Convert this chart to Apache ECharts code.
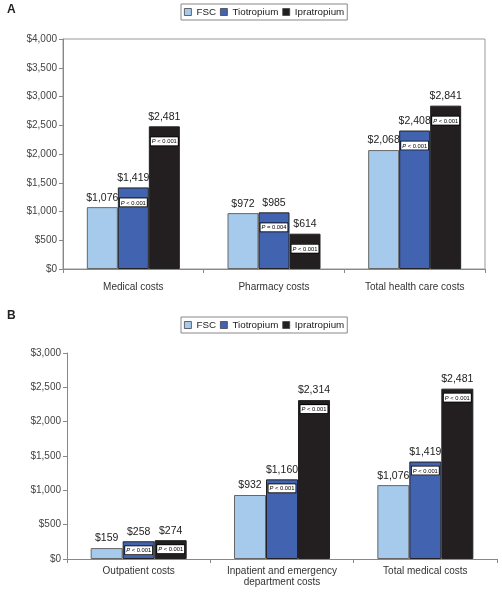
<!DOCTYPE html>
<html><head><meta charset="utf-8">
<script src="https://cdn.jsdelivr.net/npm/echarts@6/dist/echarts.min.js"></script>
<style>html,body{margin:0;padding:0;background:#fff}#c{width:502px;height:592px}</style>
</head><body><div id="c"></div>
<script>
// ---- data ----
const seriesNames = ['FSC', 'Tiotropium', 'Ipratropium'];
const categoriesA = ['Medical costs', 'Pharmacy costs', 'Total health care costs'];
const fscA = [1076, 972, 2068];
const tioA = [1419, 985, 2408];
const ipraA = [2481, 614, 2841];
const pTioA = ['P < 0.001', 'P = 0.004', 'P < 0.001'];
const pIpraA = ['P < 0.001', 'P < 0.001', 'P < 0.001'];
const yTicksA = [0, 500, 1000, 1500, 2000, 2500, 3000, 3500, 4000];

const categoriesB = ['Outpatient costs', 'Inpatient and emergency\ndepartment costs', 'Total medical costs'];
const fscB = [159, 932, 1076];
const tioB = [258, 1160, 1419];
const ipraB = [274, 2314, 2481];
const pTioB = ['P < 0.001', 'P < 0.001', 'P < 0.001'];
const pIpraB = ['P < 0.001', 'P < 0.001', 'P < 0.001'];
const yTicksB = [0, 500, 1000, 1500, 2000, 2500, 3000];

// ---- styles ----
const colors = ['#a6caec', '#4263af', '#231f20'];
const FONT = 'Liberation Sans, Arial, sans-serif';
const money = v => '$' + Math.round(v).toLocaleString('en-US');

const chart = echarts.init(document.getElementById('c'));

function pLabel(arr, dist) {
  return {
    show: true, position: 'insideTop', distance: dist,
    backgroundColor: '#fff', borderColor: '#000', borderWidth: 0.8,
    padding: [1, 1, 0, 1],
    formatter: p => '{i|' + arr[p.dataIndex].charAt(0) + '}{n|' + arr[p.dataIndex].slice(1) + '}',
    rich: {
      i: { fontStyle: 'italic', fontSize: 5.8, fontFamily: FONT, color: '#000', lineHeight: 7 },
      n: { fontSize: 5.8, fontFamily: FONT, color: '#000', lineHeight: 7 }
    }
  };
}

function panelSeries(gi, vals, pArrs, pDist, bw) {
  const out = [];
  vals.forEach((v, i) => {
    out.push({
      name: seriesNames[i], type: 'bar', xAxisIndex: gi * 2, yAxisIndex: gi,
      data: v, barWidth: bw, barGap: '0%',
      itemStyle: { color: colors[i], borderColor: i === 0 ? '#666' : '#222', borderWidth: 1 },
      label: pArrs[i] ? pLabel(pArrs[i], pDist) : { show: false },
      silent: true
    });
  });
  vals.forEach((v, i) => {
    out.push({
      name: seriesNames[i] + ' value', type: 'bar', xAxisIndex: gi * 2 + 1, yAxisIndex: gi,
      data: v, barWidth: bw, barGap: '0%',
      itemStyle: { color: 'rgba(0,0,0,0)' },
      label: { show: true, position: 'top', distance: 4, formatter: p => money(p.value),
        fontSize: 10.5, fontFamily: FONT, color: '#222' },
      silent: true
    });
  });
  return out;
}

function yAxis(gi, ticks) {
  return {
    type: 'value', gridIndex: gi, min: ticks[0], max: ticks[ticks.length - 1], interval: ticks[1] - ticks[0],
    axisLine: { show: true, lineStyle: { color: '#888' } },
    axisTick: { show: true, length: 4, lineStyle: { color: '#888' } },
    splitLine: { show: false },
    axisLabel: { formatter: money, fontSize: 10, fontFamily: FONT, color: '#444', margin: 6 }
  };
}

function xAxes(gi, cats, margin) {
  return [{
    type: 'category', gridIndex: gi, data: cats,
    axisLine: { lineStyle: { color: '#888' } },
    axisTick: { show: true, length: 4, lineStyle: { color: '#888' } },
    axisLabel: { fontSize: 10, fontFamily: FONT, color: '#333', margin: margin, lineHeight: 11, interval: 0 }
  }, {
    type: 'category', gridIndex: gi, data: cats, show: false
  }];
}

function legend(top) {
  return {
    data: seriesNames, top: top, left: 181, icon: 'rect', itemWidth: 7, itemHeight: 7, itemGap: 4,
    borderColor: '#888', borderWidth: 1, padding: [3, 3, 3, 3],
    itemStyle: { borderWidth: 0.8, borderColor: '#444' },
    textStyle: { fontSize: 9.8, fontFamily: FONT, color: '#222' }
  };
}

chart.setOption({
  animation: false,
  title: [
    { text: 'A', left: 7, top: 4, padding: 0, textStyle: { fontSize: 12, fontWeight: 'bold', fontFamily: FONT, color: '#222' } },
    { text: 'B', left: 7, top: 310, padding: 0, textStyle: { fontSize: 12, fontWeight: 'bold', fontFamily: FONT, color: '#222' } }
  ],
  legend: [legend(4), legend(317)],
  grid: [
    { left: 63, right: 17, top: 39, height: 230, show: true, borderColor: '#999', borderWidth: 1 },
    { left: 67, right: 5, top: 353, height: 206 }
  ],
  xAxis: [...xAxes(0, categoriesA, 13), ...xAxes(1, categoriesB, 7)],
  yAxis: [yAxis(0, yTicksA), yAxis(1, yTicksB)],
  series: [
    ...panelSeries(0, [fscA, tioA, ipraA], [null, pTioA, pIpraA], 11, 31),
    ...panelSeries(1, [fscB, tioB, ipraB], [null, pTioB, pIpraB], 5, 32)
  ]
});
</script></body></html>
